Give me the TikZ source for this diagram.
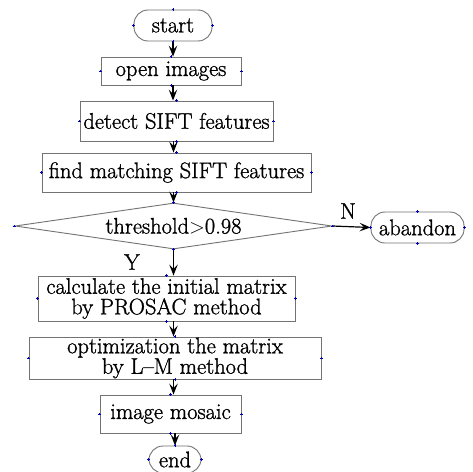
\documentclass[tikz,border=0pt]{standalone}
\usepackage{fontspec}
\setmainfont{Latin Modern Roman}[FakeBold=1.2]
\usetikzlibrary{shapes.geometric,arrows.meta}
\begin{document}
\begin{tikzpicture}[x=1pt,y=-1pt,
  every node/.style={font=\fontsize{22.5}{20.5}\selectfont},
  flowbox/.style={draw=black!55, line width=0.9pt, inner sep=0pt, align=center},
  term/.style={flowbox, rounded corners=14pt},
  dec/.style={draw=black!55, line width=0.9pt, diamond, aspect=6.9, inner sep=0pt},
  conn/.style={black, line width=1.2pt, -{Stealth[length=11pt,width=8.5pt,inset=4.5pt]}},
  lbl/.style={inner sep=0pt},
  mk/.style={blue!70!black, line width=0.6pt}]
\useasboundingbox (0,0) rectangle (473,471);
\fill[white] (0,0) rectangle (473,471);
\node[term, minimum width=78pt, minimum height=31pt] (start) at (173,25.5) {start};
\node[flowbox, minimum width=140pt, minimum height=28pt] (open) at (171,71) {open images};
\node[flowbox, minimum width=193pt, minimum height=40pt] (detect) at (176.5,121) {detect SIFT features};
\node[flowbox, minimum width=269pt, minimum height=39pt] (find) at (176.5,172.5) {find matching SIFT features};
\node[dec, minimum width=317pt, minimum height=46pt] (thr) at (173.5,226) {threshold\(>\)0.98};
\node[term, minimum width=93pt, minimum height=31pt] (aband) at (417.5,227.5) {abandon};
\node[flowbox, minimum width=257pt, minimum height=45pt] (calc) at (166.5,298.5) {calculate the initial matrix\\by PROSAC method};
\node[flowbox, minimum width=292pt, minimum height=42pt] (optim) at (175,358) {optimization the matrix\\by L--M method};
\node[flowbox, minimum width=141pt, minimum height=38pt] (mosaic) at (170.5,414) {image mosaic};
\node[term, minimum width=52pt, minimum height=27pt] (end) at (175,459.5) {end};
\coordinate (a1) at (start.south |- open.south);
\coordinate (a2) at (start.south |- detect.north);
\coordinate (b1) at (thr.north |- detect.south);
\coordinate (b2) at (thr.north |- find.north);
\coordinate (c1) at (thr.north |- find.south);
\coordinate (d1) at (thr.south |- calc.north);
\coordinate (e1) at (thr.south |- calc.south);
\coordinate (e2) at (thr.south |- optim.north);
\coordinate (f1) at (thr.south |- optim.south);
\coordinate (f2) at (thr.south |- mosaic.north);
\coordinate (g1) at (end.north |- mosaic.south);
\draw[conn] (start.south) -- (start.south |- open.north);
\draw[conn] (a1) -- (a2);
\draw[conn] (b1) -- (b2);
\draw[conn] (c1) -- (thr.north);
\draw[conn] (thr.east) -- (aband.west);
\draw[conn] (thr.south) -- (d1);
\draw[conn] (e1) -- (e2);
\draw[conn] (f1) -- (f2);
\draw[conn] (g1) -- (end.north);
\node[lbl] (ylab) at (132,262) {Y};
\node[lbl] (nlab) at (348,211) {N};
\foreach \n in {start,open,detect,find,thr,aband,calc,optim,mosaic,end}{
  \foreach \a in {north,south,east,west}{
    \draw[mk] ([xshift=-1.2pt]\n.\a) -- ([xshift=1.2pt]\n.\a);
    \draw[mk] ([yshift=-1.2pt]\n.\a) -- ([yshift=1.2pt]\n.\a);
  }
}
\end{tikzpicture}
\end{document}
